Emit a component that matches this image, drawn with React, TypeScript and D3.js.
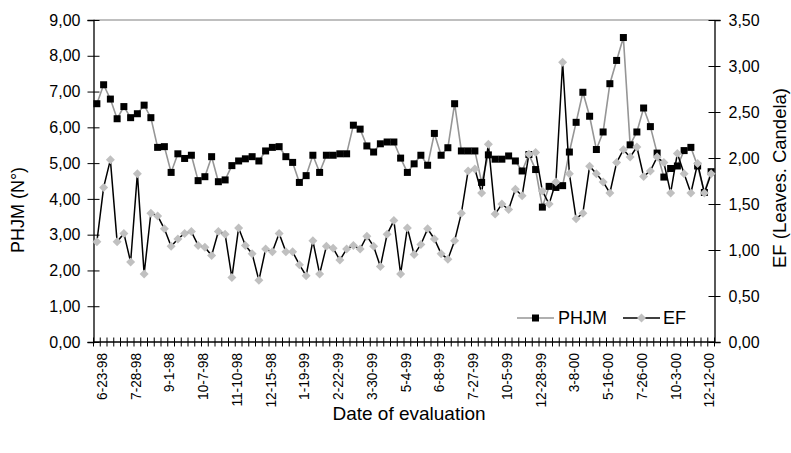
import React, { useEffect, useRef } from "react";
import * as d3 from "d3";

// date labels shown every 5th evaluation
const tickLabels = [
  "6-23-98", "7-28-98", "9-1-98", "10-7-98", "11-10-98", "12-15-98", "1-19-99",
  "2-22-99", "3-30-99", "5-4-99", "6-8-99", "7-27-99", "10-5-99", "12-28-99",
  "3-8-00", "5-16-00", "7-26-00", "10-3-00", "12-12-00",
];

const phjm = [
  6.66, 7.19, 6.79, 6.24, 6.58, 6.27, 6.38, 6.62, 6.27, 5.44,
  5.46, 4.74, 5.26, 5.13, 5.22, 4.51, 4.62, 5.18, 4.48, 4.53,
  4.93, 5.06, 5.12, 5.18, 5.06, 5.34, 5.44, 5.46, 5.18, 5.02,
  4.46, 4.65, 5.22, 4.74, 5.22, 5.22, 5.26, 5.26, 6.06, 5.95,
  5.48, 5.31, 5.54, 5.59, 5.59, 5.14, 4.74, 4.98, 5.22, 4.94,
  5.83, 5.22, 5.43, 6.66, 5.34, 5.34, 5.34, 4.46, 5.23, 5.11,
  5.11, 5.2, 5.06, 4.78, 5.24, 4.82, 3.77, 4.35, 4.32, 4.37,
  5.31, 6.14, 6.98, 6.31, 5.38, 5.87, 7.22, 7.87, 8.51, 5.51,
  5.87, 6.54, 6.02, 5.28, 4.61, 4.85, 4.92, 5.35, 5.44, 4.92,
  4.18, 4.76,
];

const ef = [
  1.09, 1.68, 1.98, 1.09, 1.18, 0.87, 1.83, 0.74, 1.4, 1.37,
  1.23, 1.04, 1.12, 1.18, 1.2, 1.05, 1.03, 0.94, 1.2, 1.17,
  0.7, 1.24, 1.05, 0.96, 0.67, 1.01, 0.98, 1.18, 0.98, 0.98,
  0.84, 0.72, 1.1, 0.74, 1.04, 1.02, 0.89, 1.01, 1.05, 1.01,
  1.15, 1.04, 0.82, 1.17, 1.32, 0.74, 1.24, 0.95, 1.06, 1.23,
  1.12, 0.96, 0.9, 1.1, 1.4, 1.86, 1.88, 1.62, 2.15, 1.39,
  1.5, 1.44, 1.66, 1.59, 2.04, 2.06, 1.64, 1.5, 1.74, 3.04,
  1.83, 1.34, 1.4, 1.91, 1.83, 1.74, 1.62, 1.95, 2.09, 2.01,
  2.12, 1.8, 1.86, 2.01, 1.95, 1.62, 2.05, 1.83, 1.62, 1.94,
  1.62, 1.83,
];

const leftTicks = [0, 1, 2, 3, 4, 5, 6, 7, 8, 9];
const rightTicks = [0, 0.5, 1, 1.5, 2, 2.5, 3, 3.5];

const FONT = "'Liberation Sans', Arial, sans-serif";

export default function App() {
  const ref = useRef<SVGSVGElement>(null);

  useEffect(() => {
    const svg = d3.select(ref.current);
    svg.selectAll("*").remove();

    const left = 93.5, right = 714.5, top = 20, bottom = 342;
    const n = phjm.length;
    const idx = d3.range(n);

    const x = d3.scaleBand<number>().domain(idx).range([left, right]).padding(0);
    const cx = (i: number) => (x(i) as number) + x.bandwidth() / 2;
    const yL = d3.scaleLinear().domain([0, 9]).range([bottom, top]);
    const yR = d3.scaleLinear().domain([0, 3.5]).range([bottom, top]);

    const fmt = (v: number) => d3.format(".2f")(v).replace(".", ",");

    // plot border top
    svg.append("line")
      .attr("x1", left).attr("x2", right).attr("y1", top).attr("y2", top)
      .attr("stroke", "#808080").attr("stroke-width", 1.2);

    // left axis
    const gl = svg.append("g").attr("transform", `translate(${left},0)`)
      .call(d3.axisLeft(yL).tickValues(leftTicks).tickSize(6).tickFormat((d: any) => fmt(d)));
    gl.select(".domain").attr("stroke", "#000").attr("stroke-width", 1.3);
    gl.selectAll(".tick line").attr("x2", 6).attr("x1", -6).attr("stroke", "#000");
    gl.selectAll(".tick text").attr("x", -13).attr("font-size", 16).attr("font-family", FONT).attr("fill", "#000");

    // right axis
    const gr = svg.append("g").attr("transform", `translate(${right},0)`)
      .call(d3.axisRight(yR).tickValues(rightTicks).tickSize(6).tickFormat((d: any) => fmt(d)));
    gr.select(".domain").attr("stroke", "#000").attr("stroke-width", 1.3);
    gr.selectAll(".tick line").attr("x1", -6).attr("x2", 6).attr("stroke", "#000");
    gr.selectAll(".tick text").attr("x", 14).attr("font-size", 16).attr("font-family", FONT).attr("fill", "#000");

    // bottom axis line with category ticks
    svg.append("line")
      .attr("x1", left).attr("x2", right).attr("y1", bottom).attr("y2", bottom)
      .attr("stroke", "#000").attr("stroke-width", 1.3);
    svg.selectAll(".xtick").data(d3.range(n + 1)).enter().append("line")
      .attr("class", "xtick")
      .attr("x1", (d) => left + d * x.bandwidth())
      .attr("x2", (d) => left + d * x.bandwidth())
      .attr("y1", bottom - 4.5).attr("y2", bottom + 4.5)
      .attr("stroke", "#000").attr("stroke-width", 1);

    svg.selectAll(".xlabel").data(tickLabels).enter().append("text")
      .attr("class", "xlabel")
      .attr("transform", (d, k) => `translate(${cx(k * 5)},353) rotate(-90) scale(0.88,1)`)
      .attr("dy", 10)
      .attr("text-anchor", "end")
      .attr("font-size", 15.5).attr("font-family", FONT).attr("fill", "#000")
      .text((d) => d);

    // axis titles
    svg.append("text")
      .attr("x", 409).attr("y", 420).attr("text-anchor", "middle")
      .attr("font-size", 19).attr("font-family", FONT).text("Date of evaluation");
    svg.append("text")
      .attr("transform", "translate(17.5,210) rotate(-90)").attr("dy", "0.35em")
      .attr("text-anchor", "middle").attr("font-size", 18).attr("font-family", FONT)
      .text("PHJM (N°)");
    svg.append("text")
      .attr("transform", "translate(780,178) rotate(-90)").attr("dy", "0.35em")
      .attr("text-anchor", "middle").attr("font-size", 18.5).attr("font-family", FONT)
      .text("EF (Leaves. Candela)");

    // PHJM series
    const lineL = d3.line<number>().x((d, i) => cx(i)).y((d) => yL(d));
    svg.append("path").datum(phjm).attr("d", lineL)
      .attr("fill", "none").attr("stroke", "#969696").attr("stroke-width", 1.6);

    // EF series
    const lineR = d3.line<number>().x((d, i) => cx(i)).y((d) => yR(d));
    svg.append("path").datum(ef).attr("d", lineR)
      .attr("fill", "none").attr("stroke", "#000").attr("stroke-width", 1.5);

    const sq = 7;
    svg.selectAll(".sq").data(phjm).enter().append("rect")
      .attr("class", "sq")
      .attr("x", (d, i) => cx(i) - sq / 2).attr("y", (d) => yL(d) - sq / 2)
      .attr("width", sq).attr("height", sq).attr("fill", "#000");

    const diamond = (px: number, py: number, r: number) =>
      `M${px},${py - r}L${px + r},${py}L${px},${py + r}L${px - r},${py}Z`;
    svg.selectAll(".dm").data(ef).enter().append("path")
      .attr("class", "dm")
      .attr("d", (d, i) => diamond(cx(i), yR(d), 4.5))
      .attr("fill", "#c0c0c0");

    // legend
    const ly = 318;
    const lg = svg.append("g");
    lg.append("line").attr("x1", 517).attr("x2", 554).attr("y1", ly).attr("y2", ly)
      .attr("stroke", "#969696").attr("stroke-width", 1.6);
    lg.append("rect").attr("x", 535.5 - sq / 2).attr("y", ly - sq / 2)
      .attr("width", sq).attr("height", sq).attr("fill", "#000");
    lg.append("text").attr("x", 558).attr("y", ly).attr("dy", "0.36em")
      .attr("font-size", 18).attr("font-family", FONT).text("PHJM");
    lg.append("line").attr("x1", 623).attr("x2", 660).attr("y1", ly).attr("y2", ly)
      .attr("stroke", "#000").attr("stroke-width", 1.5);
    lg.append("path").attr("d", diamond(641.5, ly, 4.5)).attr("fill", "#c0c0c0");
    lg.append("text").attr("x", 663).attr("y", ly).attr("dy", "0.36em")
      .attr("font-size", 18).attr("font-family", FONT).text("EF");
  }, []);

  return (
    <svg ref={ref} width={791} height={453}
      style={{ position: "absolute", left: 0, top: 0, background: "#fff" }} />
  );
}
